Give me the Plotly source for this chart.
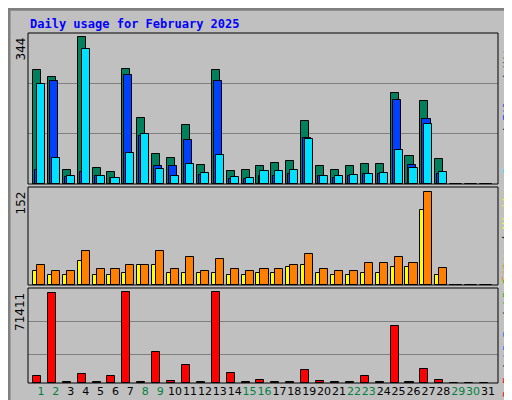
import plotly.graph_objects as go

days = list(range(1, 32))
hits = [267,250,33,344,37,28,269,154,70,61,138,44,267,30,33,42,49,54,147,42,33,42,47,47,213,65,194,58,0,0,0]
files = [33,241,16,28,19,14,255,112,42,42,103,21,241,12,12,19,19,23,108,19,14,19,23,23,197,44,152,23,0,0,0]
pages = [234,61,19,316,19,14,72,117,35,19,47,26,68,16,14,30,30,33,105,19,19,21,23,26,80,37,140,28,0,0,0]
visits = [23,16,16,40,16,16,20,33,33,20,20,20,20,16,16,20,20,30,33,20,16,16,20,20,30,30,122,16,0,0,0]
sites = [33,23,23,55,26,26,33,33,55,26,46,23,43,26,23,26,26,33,50,26,23,23,36,36,46,36,152,28,0,0,0]
kbytes = [5500,71000,800,7000,800,5500,71411,800,24300,1600,14000,800,71411,7800,800,2400,800,800,10200,1600,800,800,5500,800,44700,800,11000,2400,0,0,0]
weekend = {1,2,8,9,15,16,22,23,29,30}

W, H = 512, 400
def px(x): return x / W
def py(y): return 1 - y / H

fig = go.Figure()
line = dict(color="black", width=1)
w = 0.54
fig.add_bar(x=days, y=hits, marker=dict(color="#00805c", line=line), offset=-0.54, width=w, xaxis="x", yaxis="y")
fig.add_bar(x=days, y=files, marker=dict(color="#0040ff", line=line), offset=-0.40, width=w, xaxis="x", yaxis="y")
fig.add_bar(x=days, y=pages, marker=dict(color="#00e0ff", line=line), offset=-0.27, width=w, xaxis="x", yaxis="y")
fig.add_bar(x=days, y=visits, marker=dict(color="#ffff00", line=line), offset=-0.54, width=w, xaxis="x2", yaxis="y2")
fig.add_bar(x=days, y=sites, marker=dict(color="#ff8000", line=line), offset=-0.27, width=w, xaxis="x2", yaxis="y2")
fig.add_bar(x=days, y=kbytes, marker=dict(color="#ff0000", line=line), offset=-0.54, width=w, xaxis="x3", yaxis="y3")

xd = [px(20), px(490)]
xr = [0.13, 31.67]
common_x = dict(domain=xd, range=xr, showgrid=False, zeroline=False, fixedrange=True, automargin=False)
ticktext = [f"<span style='color:{'#008040' if d in weekend else 'black'}'>{d}</span>" for d in days]
fig.update_layout(
    width=W, height=H, margin=dict(l=0, r=0, t=0, b=0, autoexpand=False),
    paper_bgcolor="#c0c0c0", plot_bgcolor="#c0c0c0", showlegend=False,
    barmode="overlay", bargap=0,
    font=dict(family="DejaVu Sans", size=11, color="black"),
    xaxis=dict(**common_x, anchor="y", showticklabels=False),
    xaxis2=dict(**common_x, anchor="y2", showticklabels=False),
    xaxis3=dict(**common_x, anchor="y3", tickmode="array", tickvals=days, ticktext=ticktext,
                ticks="", tickangle=0, tickfont=dict(size=11)),
    yaxis=dict(domain=[py(176), py(25)], range=[0, 353], tickvals=[117.7, 235.3], showticklabels=False,
               gridcolor="#808080", zeroline=False, automargin=False),
    yaxis2=dict(domain=[py(277), py(179)], range=[0, 160], showticklabels=False, showgrid=False, zeroline=False, automargin=False),
    yaxis3=dict(domain=[py(375), py(280)], range=[0, 74550], tickvals=[22760, 48650], showticklabels=False,
                gridcolor="#808080", zeroline=False, automargin=False),
)

shapes = [dict(type="rect", xref="paper", yref="paper", x0=0.002, x1=0.998, y0=0.003, y1=0.997,
               line=dict(color="#808080", width=3), layer="below")]
for y0, y1 in [(176, 25), (277, 179), (375, 280)]:
    shapes.append(dict(type="rect", xref="paper", yref="paper", x0=xd[0], x1=xd[1], y0=py(y0), y1=py(y1),
                       line=dict(color="black", width=1)))
fig.update_layout(shapes=shapes)

ann = [dict(text="<b>Daily usage for February 2025</b>", x=px(20), y=py(16), xref="paper", yref="paper",
            xanchor="left", yanchor="middle", showarrow=False,
            font=dict(family="DejaVu Sans Mono", size=12, color="#0000ff"))]
for txt, y in [("344", 28), ("152", 182), ("71411", 283)]:
    ann.append(dict(text=txt, x=px(12), y=py(y), xref="paper", yref="paper", textangle=-90,
                    xanchor="center", yanchor="top", showarrow=False, font=dict(size=12)))
right = [
    ("<span style='color:#00e0ff'>Pages</span> / <span style='color:#0040ff'>Files</span> / <span style='color:#00805c'>Hits</span>", 100),
    ("<span style='color:#ff8000'>Sites</span> / <span style='color:#ffff00'>Visits</span>", 228),
    ("<span style='color:#ff0000'>kB F</span> / <span style='color:#0080ff'>kB In</span> / <span style='color:#00c000'>kB Out</span>", 327),
]
for txt, y in right:
    ann.append(dict(text=txt, x=px(499), y=py(y), xref="paper", yref="paper", textangle=-90,
                    xanchor="center", yanchor="middle", showarrow=False,
                    font=dict(family="DejaVu Sans Mono", size=11, color="black")))
fig.update_layout(annotations=ann)

fig.write_html("out.html", config={"displayModeBar": False})
